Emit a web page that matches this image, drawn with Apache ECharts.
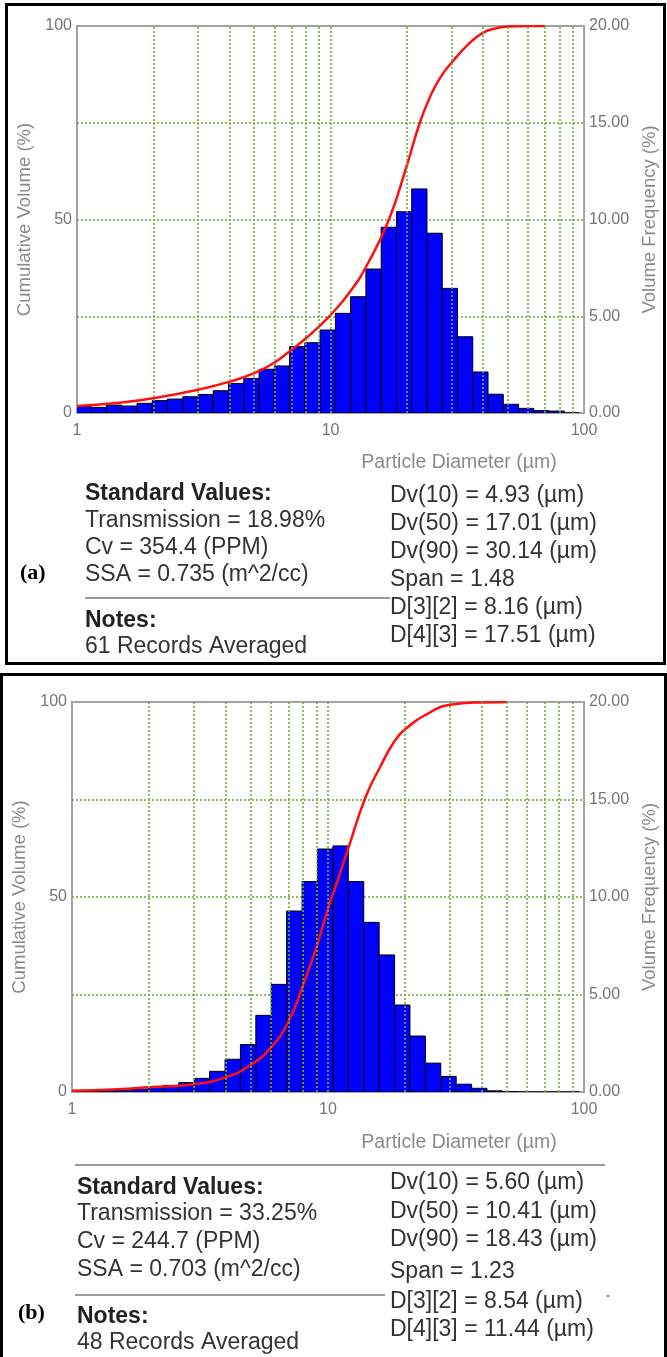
<!DOCTYPE html>
<html>
<head>
<meta charset="utf-8">
<script src="https://cdn.jsdelivr.net/npm/echarts@6/dist/echarts.min.js"></script>
<style>
html,body{margin:0;padding:0;background:#ffffff;}
#c{width:667px;height:1357px;}
</style>
</head>
<body>
<div id="c"></div>
<script>
// ---------- DATA ----------
// Instrument size-channel edges (µm)
const binEdges = [0.990, 1.137, 1.306, 1.501, 1.724, 1.980, 2.274, 2.613, 3.001, 3.447,
  3.960, 4.549, 5.225, 6.002, 6.895, 7.920, 9.098, 10.45, 12.00, 13.79,
  15.84, 18.20, 20.90, 24.01, 27.58, 31.68, 36.39, 41.80, 48.02, 55.16,
  63.36, 72.78, 83.60, 96.04];

// (a) volume frequency per channel (%)
const freqA = [0.36, 0.29, 0.41, 0.36, 0.50, 0.64, 0.72, 0.84, 0.96, 1.15,
  1.53, 1.79, 2.26, 2.43, 3.43, 3.63, 4.29, 5.15, 6.01, 7.44,
  9.60, 10.40, 11.58, 9.29, 6.44, 3.94, 2.12, 0.97, 0.45, 0.24,
  0.12, 0.10, 0.00];
// (a) cumulative volume (%)
const cumDiamA = [1, 1.5, 2, 3, 4, 5, 6, 7, 8, 10, 12, 14, 17, 20, 22.5, 25, 27.5, 30, 35, 40, 45, 50, 60, 70];
const cumA     = [1.8, 2.7, 3.8, 6.0, 8.1, 10.3, 13.0, 16.3, 19.3, 25.3, 31.5, 38.5, 50, 64, 75, 82.5, 87.3, 90.5, 95.3, 98.3, 99.4, 99.85, 100, 100];

// (b) volume frequency per channel (%)
const freqB = [0.04, 0.05, 0.07, 0.10, 0.15, 0.24, 0.34, 0.48, 0.70, 1.06,
  1.68, 2.43, 3.93, 5.52, 9.28, 10.79, 12.46, 12.62, 10.79, 8.70,
  7.03, 4.46, 2.87, 1.48, 0.80, 0.40, 0.19, 0.06, 0.02, 0.00,
  0.00, 0.00, 0.00];
// (b) cumulative volume (%)
const cumDiamB = [1, 1.5, 2, 3, 4, 5, 6, 7, 8, 9, 10, 11, 12, 14, 16, 18, 20, 25, 30, 40, 50];
const cumB     = [0.3, 0.7, 1.2, 2.0, 3.8, 7.0, 11.5, 18, 27.5, 37, 47, 55, 62.5, 75.5, 83.4, 89.5, 93, 97.3, 99.3, 99.9, 100];

// axes
const xMin = 1, xMax = 100;
const gridDiams = [2, 3, 4, 5, 6, 7, 8, 9, 10, 20, 30, 40, 50, 60, 70, 80, 90];
const leftMin = 0, leftMax = 100, leftStep = 25, leftLabelStep = 50;
const rightMin = 0, rightMax = 20, rightStep = 5;

// text blocks
const stdA = ['Transmission = 18.98%', 'Cv = 354.4 (PPM)', 'SSA = 0.735 (m^2/cc)'];
const notesA = '61 Records Averaged';
const dvA = ['Dv(10) = 4.93 (µm)', 'Dv(50) = 17.01 (µm)', 'Dv(90) = 30.14 (µm)', 'Span = 1.48', 'D[3][2] = 8.16 (µm)', 'D[4][3] = 17.51 (µm)'];
const stdB = ['Transmission = 33.25%', 'Cv = 244.7 (PPM)', 'SSA = 0.703 (m^2/cc)'];
const notesB = '48 Records Averaged';
const dvB = ['Dv(10) = 5.60 (µm)', 'Dv(50) = 10.41 (µm)', 'Dv(90) = 18.43 (µm)', 'Span = 1.23', 'D[3][2] = 8.54 (µm)', 'D[4][3] = 11.44 (µm)'];

// ---------- CHART ----------
const FONT = '"Liberation Sans", Arial, Helvetica, sans-serif';
const GRIDC = '#6fae3c';
const AXC = '#757575';
const NAMEC = '#8a8a8a';

function histData(freq) { return freq.map((v, i) => [binEdges[i], binEdges[i + 1], v]); }
function cumData(d, c) { return d.map((x, i) => [x, c[i]]); }

function renderBar(params, api) {
  const a = api.coord([api.value(0), api.value(2)]);
  const b = api.coord([api.value(1), 0]);
  return {
    type: 'rect',
    shape: { x: a[0], y: a[1], width: b[0] - a[0], height: b[1] - a[1] },
    style: { fill: '#0000ff', stroke: '#000000', lineWidth: 1 }
  };
}

const gridDefs = [
  { left: 77, top: 26, width: 511, height: 387, leftGap: 40, rightGap: 54 },
  { left: 72, top: 702, width: 517, height: 390, leftGap: 40, rightGap: 56 }
];

const grid = [], xAxis = [], yAxis = [], series = [];
const panels = [
  { freq: freqA, cd: cumDiamA, c: cumA },
  { freq: freqB, cd: cumDiamB, c: cumB }
];

gridDefs.forEach((g, i) => {
  grid.push({ left: g.left, top: g.top, width: g.width, height: g.height,
    show: true, borderColor: '#a3a3a3', borderWidth: 2, backgroundColor: 'transparent' });
  xAxis.push({
    type: 'log', logBase: 10, min: xMin, max: xMax, gridIndex: i,
    axisLine: { show: false }, axisTick: { show: false }, splitLine: { show: false },
    axisLabel: { color: AXC, fontSize: 16, fontFamily: FONT, margin: 10 }
  });
  yAxis.push({
    type: 'value', gridIndex: i, position: 'left', min: leftMin, max: leftMax, interval: leftStep,
    axisLine: { show: false }, axisTick: { show: false },
    axisLabel: { color: AXC, fontSize: 16, fontFamily: FONT, margin: 5,
      formatter: v => (v % leftLabelStep === 0 ? String(v) : '') },
    splitLine: { show: true, showMinLine: false, showMaxLine: false,
      lineStyle: { color: GRIDC, type: [2, 2], width: 1.6 } },
    name: 'Cumulative Volume (%)', nameLocation: 'middle', nameGap: g.leftGap,
    nameTextStyle: { color: NAMEC, fontSize: 18.5, fontFamily: FONT }
  });
  yAxis.push({
    type: 'value', gridIndex: i, position: 'right', min: rightMin, max: rightMax, interval: rightStep,
    axisLine: { show: false }, axisTick: { show: false },
    axisLabel: { color: AXC, fontSize: 16, fontFamily: FONT, margin: 5, formatter: v => v.toFixed(2) },
    splitLine: { show: false },
    name: 'Volume Frequency (%)', nameLocation: 'middle', nameGap: g.rightGap,
    nameTextStyle: { color: NAMEC, fontSize: 18.5, fontFamily: FONT }
  });
  const p = panels[i];
  series.push({
    type: 'line', xAxisIndex: i, yAxisIndex: 2 * i, data: [], silent: true, z: 1,
    markLine: {
      silent: true, symbol: ['none', 'none'], animation: false,
      label: { show: false },
      lineStyle: { color: GRIDC, type: [2, 2], width: 1.6 },
      data: gridDiams.map(v => ({ xAxis: v }))
    }
  });
  series.push({
    type: 'custom', xAxisIndex: i, yAxisIndex: 2 * i + 1, renderItem: renderBar,
    encode: { x: [0, 1], y: 2 }, data: histData(p.freq), clip: true, z: 2, silent: true
  });
  series.push({
    type: 'line', xAxisIndex: i, yAxisIndex: 2 * i, data: cumData(p.cd, p.c),
    smooth: 0.5, showSymbol: false, clip: true, z: 3, silent: true,
    lineStyle: { color: '#ff1010', width: 2.5 }
  });
});

// ---------- GRAPHIC (frames + text blocks) ----------
const TXT = '#333333';
const FS = 23;
const g = [];
function txt(s, x, y, opt) {
  opt = opt || {};
  g.push({ type: 'text', z: 10, style: {
    text: s, x: x, y: y, fill: opt.fill || TXT,
    font: (opt.bold ? 'bold ' : '') + (opt.size || FS) + 'px ' + (opt.family || FONT),
    textAlign: opt.align || 'left', textVerticalAlign: 'middle', align: opt.align || 'left', verticalAlign: 'middle'
  }});
}
function hline(x1, x2, y, color, w) {
  g.push({ type: 'line', z: 10, shape: { x1: x1, y1: y, x2: x2, y2: y }, style: { stroke: color, lineWidth: w } });
}
// frames
g.push({ type: 'rect', z: 10, shape: { x: 6.5, y: 4.5, width: 658, height: 659 }, style: { fill: null, stroke: '#000', lineWidth: 3 } });
g.push({ type: 'rect', z: 10, shape: { x: 1.5, y: 674.5, width: 664, height: 720 }, style: { fill: null, stroke: '#000', lineWidth: 3 } });

// x-axis names
txt('Particle Diameter (µm)', 459, 463, { size: 19.5, fill: NAMEC, align: 'center' });
txt('Particle Diameter (µm)', 459, 1143, { size: 19.5, fill: NAMEC, align: 'center' });

// (a) block
txt('Standard Values:', 85, 494, { bold: true, fill: '#222' });
stdA.forEach((s, k) => txt(s, 85, 521 + 27 * k));
hline(85, 390, 598, '#9a9a9a', 2);
txt('Notes:', 85, 621, { bold: true, fill: '#222' });
txt(notesA, 85, 647);
dvA.forEach((s, k) => txt(s, 390, 496 + 28 * k));
txt('(a)', 20, 573, { bold: true, fill: '#000', size: 22, family: '"Liberation Serif", "Times New Roman", serif' });

// (b) block
hline(75, 605, 1165, '#9a9a9a', 2);
txt('Standard Values:', 77, 1188, { bold: true, fill: '#222' });
stdB.forEach((s, k) => txt(s, 77, 1214 + 28 * k));
hline(75, 385, 1295, '#9a9a9a', 2);
txt('Notes:', 77, 1317, { bold: true, fill: '#222' });
txt(notesB, 77, 1343);
const dvBY = [1183, 1212, 1240, 1272, 1302, 1330];
dvB.forEach((s, k) => txt(s, 390, dvBY[k]));
txt('(b)', 18, 1313, { bold: true, fill: '#000', size: 22, family: '"Liberation Serif", "Times New Roman", serif' });
hline(606, 610, 1296, '#888', 1.5);

const chart = echarts.init(document.getElementById('c'));
chart.setOption({
  animation: false,
  backgroundColor: '#ffffff',
  grid: grid, xAxis: xAxis, yAxis: yAxis, series: series,
  graphic: { elements: g }
});
</script>
</body>
</html>
